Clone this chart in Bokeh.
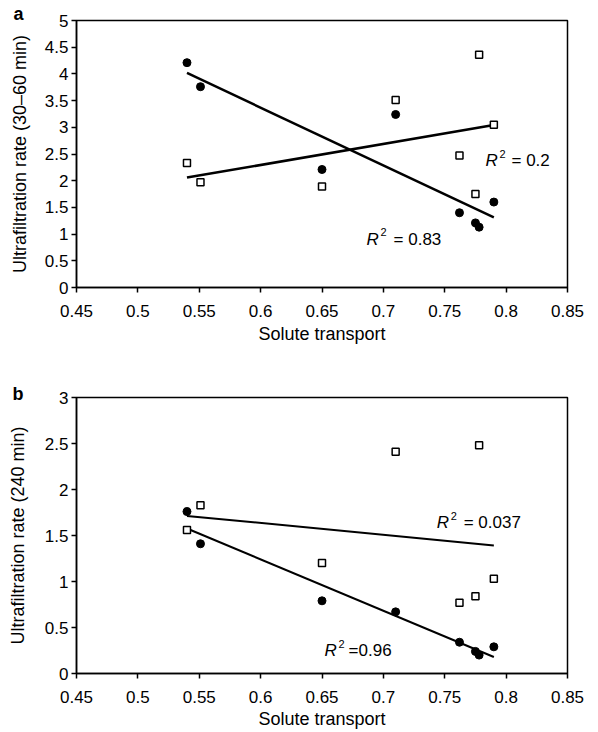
import numpy as np
from bokeh.plotting import figure
from bokeh.layouts import column
from bokeh.models import Range1d, Label, FixedTicker, CustomJSTickFormatter, Title
from bokeh.embed import file_html
from bokeh.resources import INLINE

# ---- data ----
solute = [0.54, 0.551, 0.65, 0.71, 0.762, 0.775, 0.778, 0.79]
uf_a_filled = [4.21, 3.76, 2.21, 3.24, 1.40, 1.21, 1.13, 1.60]
uf_a_open = [2.33, 1.97, 1.89, 3.51, 2.47, 1.75, 4.36, 3.05]
uf_b_filled = [1.76, 1.41, 0.79, 0.67, 0.34, 0.24, 0.20, 0.29]
uf_b_open = [1.56, 1.83, 1.20, 2.41, 0.77, 0.84, 2.48, 1.03]

x_ticks = [0.45, 0.5, 0.55, 0.6, 0.65, 0.7, 0.75, 0.8, 0.85]
y_ticks_a = [0, 0.5, 1, 1.5, 2, 2.5, 3, 3.5, 4, 4.5, 5]
y_ticks_b = [0, 0.5, 1, 1.5, 2, 2.5, 3]

r2_a_open = "= 0.2"
r2_a_filled = "= 0.83"
r2_b_open = "= 0.037"
r2_b_filled = "=0.96"

FONT = "Liberation Sans"
fmt = CustomJSTickFormatter(code="return tick.toString();")


def style(p, yticks, ylabel, tick_standoff_x, label_standoff_x, label_standoff_y):
    for ax in (p.xaxis[0], p.yaxis[0]):
        ax.axis_line_color = "black"
        ax.axis_line_width = 1.5
        ax.major_tick_line_color = "black"
        ax.major_tick_line_width = 1.5
        ax.major_tick_out = 5
        ax.major_tick_in = 0
        ax.minor_tick_line_color = None
        ax.major_label_text_font = FONT
        ax.major_label_text_font_size = "17px"
        ax.major_label_text_color = "black"
        ax.axis_label_text_font = FONT
        ax.axis_label_text_font_size = "18px"
        ax.axis_label_text_font_style = "normal"
        ax.axis_label_text_color = "black"
        ax.formatter = fmt
    p.xaxis[0].ticker = FixedTicker(ticks=x_ticks)
    p.yaxis[0].ticker = FixedTicker(ticks=yticks)
    p.xaxis[0].axis_label = "Solute transport"
    p.yaxis[0].axis_label = ylabel
    p.xaxis[0].major_label_standoff = tick_standoff_x
    p.xaxis[0].axis_label_standoff = label_standoff_x
    p.yaxis[0].major_label_standoff = 3
    p.yaxis[0].axis_label_standoff = label_standoff_y
    p.xgrid.grid_line_color = None
    p.ygrid.grid_line_color = None
    p.outline_line_color = "black"
    p.outline_line_width = 1.5
    p.background_fill_color = "white"
    p.border_fill_color = "white"


def trend(p, xs, ys, width):
    k, b = np.polyfit(xs, ys, 1)
    x0, x1 = min(xs), max(xs)
    p.line([x0, x1], [k * x0 + b, k * x1 + b], line_color="black", line_width=width)


def r2(p, x, y, rest, rest_off):
    p.add_layout(Label(x=x, y=y, text="R", text_font=FONT, text_font_size="17px",
                       text_font_style="italic", text_baseline="alphabetic", text_color="black"))
    p.add_layout(Label(x=x, y=y, x_offset=14, y_offset=7, text="2", text_font=FONT,
                       text_font_size="11px", text_baseline="alphabetic", text_color="black"))
    p.add_layout(Label(x=x, y=y, x_offset=rest_off, text=rest, text_font=FONT,
                       text_font_size="17px", text_baseline="alphabetic", text_color="black"))


def panel_letter(p, letter, offset, standoff):
    p.add_layout(Title(text=letter, align="left", offset=offset, standoff=standoff,
                       text_font=FONT, text_font_size="18px", text_font_style="bold",
                       text_color="black"), "above")


# ---- panel a ----
pa = figure(width=598, height=350, output_backend="svg", toolbar_location=None,
            x_range=Range1d(0.45, 0.85), y_range=Range1d(0, 5),
            min_border_left=76, min_border_right=31, min_border_top=20, min_border_bottom=63)
style(pa, y_ticks_a, "Ultrafiltration rate (30\u201360 min)", 12, 4, 12)
trend(pa, solute, uf_a_filled, 2.5)
trend(pa, solute, uf_a_open, 2.5)
pa.scatter(solute, uf_a_filled, marker="circle", size=8, fill_color="black", line_color="black")
pa.scatter(solute, uf_a_open, marker="square", size=7, fill_color="white", line_color="black",
           line_width=1.5)
r2(pa, 0.7832, 2.378, r2_a_open, 26)
r2(pa, 0.6863, 0.899, r2_a_filled, 27)
panel_letter(pa, "a", -63, -7)

# ---- panel b ----
pb = figure(width=598, height=382, output_backend="svg", toolbar_location=None,
            x_range=Range1d(0.45, 0.85), y_range=Range1d(0, 3),
            min_border_left=76, min_border_right=21, min_border_top=47, min_border_bottom=59)
style(pb, y_ticks_b, "Ultrafiltration rate (240 min)", 12, 3, 14)
trend(pb, solute, uf_b_filled, 2)
trend(pb, solute, uf_b_open, 2)
pb.scatter(solute, uf_b_filled, marker="circle", size=8, fill_color="black", line_color="black")
pb.scatter(solute, uf_b_open, marker="square", size=7, fill_color="white", line_color="black",
           line_width=1.5)
r2(pb, 0.7434, 1.641, r2_b_open, 27)
r2(pb, 0.6521, 0.247, r2_b_filled, 24)
panel_letter(pb, "b", -64, -12)

layout = column(pa, pb, spacing=0)
open("out.html", "w").write(file_html(layout, INLINE))
